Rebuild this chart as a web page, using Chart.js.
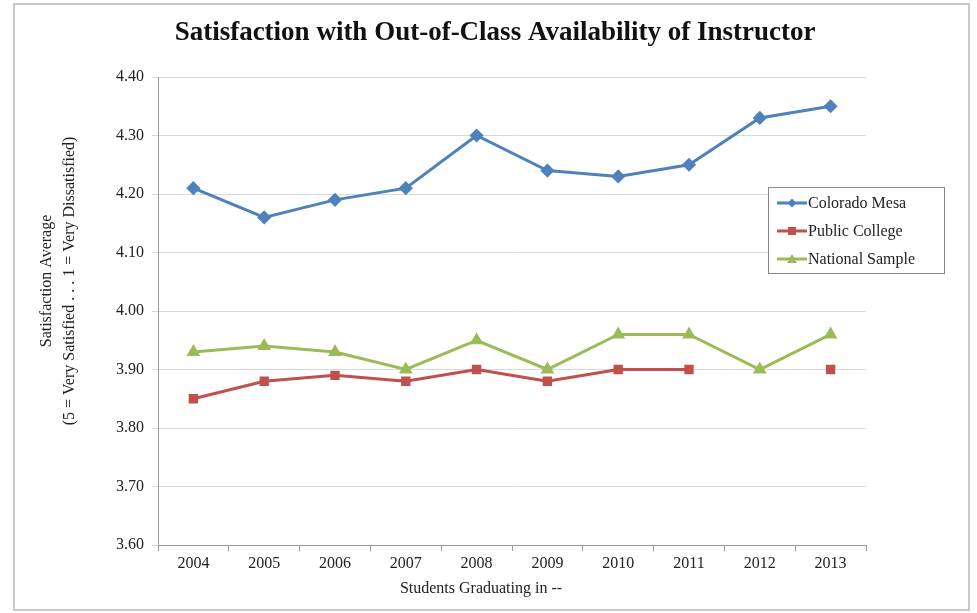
<!DOCTYPE html>
<html>
<head>
<meta charset="utf-8">
<script src="https://cdn.jsdelivr.net/npm/chart.js@4.4.0/dist/chart.umd.min.js"></script>
<style>
html,body{margin:0;padding:0;background:#fff;}
#wrap{position:relative;width:977px;height:613px;}
canvas{display:block;}
</style>
</head>
<body>
<div id="wrap"><canvas id="c" width="977" height="613"></canvas></div>
<script>
const titleText = "Satisfaction with Out-of-Class Availability of Instructor";
const years = ["2004","2005","2006","2007","2008","2009","2010","2011","2012","2013"];
const coloradoMesa = [4.21,4.16,4.19,4.21,4.30,4.24,4.23,4.25,4.33,4.35];
const publicCollege = [3.85,3.88,3.89,3.88,3.90,3.88,3.90,3.90,null,3.90];
const nationalSample = [3.93,3.94,3.93,3.90,3.95,3.90,3.96,3.96,3.90,3.96];
const yTitle = ["Satisfaction Average","(5 = Very Satisfied . . . 1 = Very Dissatisfied)"];
const xTitle = "Students Graduating in --";

const serif = "'Liberation Serif','DejaVu Serif',serif";

const framePlugin = {
  id:'frame',
  beforeDraw(chart){
    const ctx = chart.ctx;
    ctx.save();
    ctx.fillStyle='#fff';
    ctx.fillRect(0,0,chart.width,chart.height);
    ctx.strokeStyle='#c8c8c8';
    ctx.lineWidth=2;
    ctx.strokeRect(14,4,955,606);
    ctx.fillStyle='#111';
    ctx.font="bold 27px "+serif;
    ctx.textAlign='center';
    ctx.textBaseline='middle';
    ctx.fillText(titleText, 495, 33);
    // axis titles
    ctx.fillStyle='#222';
    ctx.font="16px "+serif;
    ctx.fillText(xTitle, 481, 589);
    ctx.save();
    ctx.translate(47,281);
    ctx.rotate(-Math.PI/2);
    ctx.fillText(yTitle[0],0,0);
    ctx.restore();
    ctx.save();
    ctx.translate(70,281);
    ctx.rotate(-Math.PI/2);
    ctx.fillText(yTitle[1],0,0);
    ctx.restore();
    ctx.restore();
  },
  afterDraw(chart){
    const ctx = chart.ctx;
    ctx.save();
    const bx=768, by=187, bw=176, bh=86;
    ctx.fillStyle='#fff';
    ctx.fillRect(bx,by,bw,bh);
    ctx.strokeStyle='#888';
    ctx.lineWidth=1;
    ctx.strokeRect(bx+0.5,by+0.5,bw,bh);
    ctx.font="16px "+serif;
    ctx.textBaseline='middle';
    ctx.textAlign='left';
    chart.data.datasets.forEach((ds,i)=>{
      const y = by+16+i*28;
      ctx.strokeStyle=ds.borderColor;
      ctx.lineWidth=3;
      ctx.beginPath();ctx.moveTo(bx+9,y);ctx.lineTo(bx+39,y);ctx.stroke();
      ctx.fillStyle=ds.pointBackgroundColor;
      const cx=bx+24;
      ctx.beginPath();
      if(ds.pointStyle==='rectRot'){ctx.moveTo(cx,y-4.5);ctx.lineTo(cx+4.5,y);ctx.lineTo(cx,y+4.5);ctx.lineTo(cx-4.5,y);}
      else if(ds.pointStyle==='rect'){ctx.rect(cx-4,y-4,8,8);}
      else {ctx.moveTo(cx,y-5);ctx.lineTo(cx+5,y+4);ctx.lineTo(cx-5,y+4);}
      ctx.closePath();ctx.fill();
      ctx.fillStyle='#222';
      ctx.fillText(ds.label,bx+40,y+1);
    });
    ctx.restore();
  }
};

new Chart(document.getElementById('c'),{
  type:'line',
  data:{
    labels:years,
    datasets:[
      {label:'Colorado Mesa',data:coloradoMesa,borderColor:'#4F81BD',backgroundColor:'#4F81BD',pointBackgroundColor:'#4F81BD',pointBorderColor:'#4F81BD',pointStyle:'rectRot',pointRadius:5,borderWidth:3,tension:0},
      {label:'Public College',data:publicCollege,borderColor:'#C0504D',backgroundColor:'#C0504D',pointBackgroundColor:'#C0504D',pointBorderColor:'#C0504D',pointStyle:'rect',pointRadius:4.5,borderWidth:3,tension:0,spanGaps:false},
      {label:'National Sample',data:nationalSample,borderColor:'#9BBB59',backgroundColor:'#9BBB59',pointBackgroundColor:'#9BBB59',pointBorderColor:'#9BBB59',pointStyle:'triangle',pointRadius:5,borderWidth:3,tension:0}
    ]
  },
  options:{
    responsive:false,
    animation:false,
    layout:{padding:{left:0,right:111,top:77,bottom:0}},
    plugins:{legend:{display:false},title:{display:false},tooltip:{enabled:false}},
    scales:{
      x:{
        offset:true,
        grid:{offset:true,drawOnChartArea:false,drawTicks:true,tickLength:6,color:'#999'},
        border:{color:'#999',width:1},
        ticks:{color:'#222',font:{family:serif,size:16},padding:3,maxRotation:0},
        afterFit(s){s.height=68;}
      },
      y:{
        min:3.6,max:4.4,
        ticks:{stepSize:0.1,color:'#222',font:{family:serif,size:16},padding:8,callback:v=>Number(v).toFixed(2)},
        grid:{color:'#d9d9d9',tickLength:6,lineWidth:1},
        border:{color:'#999',width:1},
        afterFit(s){s.width=158;}
      }
    }
  },
  plugins:[framePlugin]
});
</script>
</body>
</html>
